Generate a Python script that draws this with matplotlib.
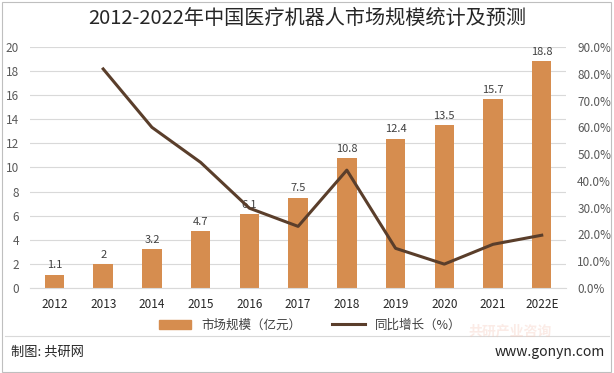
import matplotlib
matplotlib.use("Agg")
import matplotlib.pyplot as plt
import numpy as np
from matplotlib.ticker import FuncFormatter
from matplotlib.lines import Line2D
from matplotlib.patches import Rectangle

plt.rcParams['font.family'] = ['Noto Sans CJK SC', 'DejaVu Sans']

# data
years = ["2012", "2013", "2014", "2015", "2016", "2017", "2018", "2019", "2020", "2021", "2022E"]
market = [1.1, 2, 3.2, 4.7, 6.1, 7.5, 10.8, 12.4, 13.5, 15.7, 18.8]
growth = [None, 81.8, 60.0, 46.9, 29.8, 23.0, 44.0, 14.8, 8.9, 16.3, 19.7]

bar_color = "#D68D4F"
line_color = "#5A3E2B"
txt = "#595959"

fig = plt.figure(figsize=(6.14, 3.73), dpi=100)
ax = fig.add_axes([0.049, 0.228, 0.873, 0.646])
x = np.arange(len(years))

ax.bar(x, market, width=0.4, color=bar_color, zorder=2)
for xi, v in zip(x, market):
    ax.text(xi, v + 0.35, f"{v:g}", ha="center", va="bottom", fontsize=8, color="#404040")

ax.set_ylim(0, 20)
ax.set_yticks(range(0, 21, 2))
ax.set_xlim(-0.5, len(years) - 0.5)
ax.set_xticks(x)
ax.set_xticklabels(years)
ax.grid(axis="y", color="#D9D9D9", linewidth=0.8, zorder=0)
ax.tick_params(axis="y", length=0, labelsize=8.5, labelcolor=txt, pad=8)
ax.tick_params(axis="x", length=0, labelsize=8.5, labelcolor="#262626", pad=7)
for s in ax.spines.values():
    s.set_visible(False)
ax.spines["bottom"].set_visible(True)
ax.spines["bottom"].set_color("#D9D9D9")

ax2 = ax.twinx()
gx = [xi for xi, g in zip(x, growth) if g is not None]
gy = [g / 100 for g in growth if g is not None]
ax2.plot(gx, gy, color=line_color, linewidth=2.2, zorder=3)
ax2.set_ylim(0, 0.9)
ax2.set_yticks(np.arange(0, 0.91, 0.1))
ax2.yaxis.set_major_formatter(FuncFormatter(lambda v, p: f"{v*100:.1f}%"))
ax2.tick_params(axis="y", length=0, labelsize=8.5, labelcolor=txt, pad=8)
for s in ax2.spines.values():
    s.set_visible(False)

fig.text(0.5, 0.95, "2012-2022年中国医疗机器人市场规模统计及预测", ha="center", va="center",
         fontsize=14.5, color="#262626")

handles = [Rectangle((0, 0), 1, 1, color=bar_color),
           Line2D([0], [0], color=line_color, linewidth=2.2)]
fig.legend(handles, ["市场规模（亿元）", "同比增长（%）"], loc="center", bbox_to_anchor=(0.505, 0.128),
           ncol=2, frameon=False, fontsize=9, handlelength=2.6, handleheight=0.7, columnspacing=2.5,
           labelcolor="#404040")

# separator line + footer
fig.add_artist(Line2D([0.008, 0.992], [0.1, 0.1], color="#D9D9D9", linewidth=0.8))
fig.text(0.018, 0.055, "制图: 共研网", ha="left", va="center", fontsize=9.5, color="#262626")
fig.text(0.985, 0.055, "www.gonyn.com", ha="right", va="center", fontsize=10, color="#262626")
fig.text(0.83, 0.11, "共研产业咨询", ha="center", va="center", fontsize=10, color="#F4C7B8",
         fontweight="bold", alpha=0.35)

# outer frame
fig.add_artist(Rectangle((0.003, 0.004), 0.992, 0.99, fill=False, edgecolor="#BFBFBF",
                         linewidth=0.8, transform=fig.transFigure))

fig.savefig("out.png", dpi=100)
